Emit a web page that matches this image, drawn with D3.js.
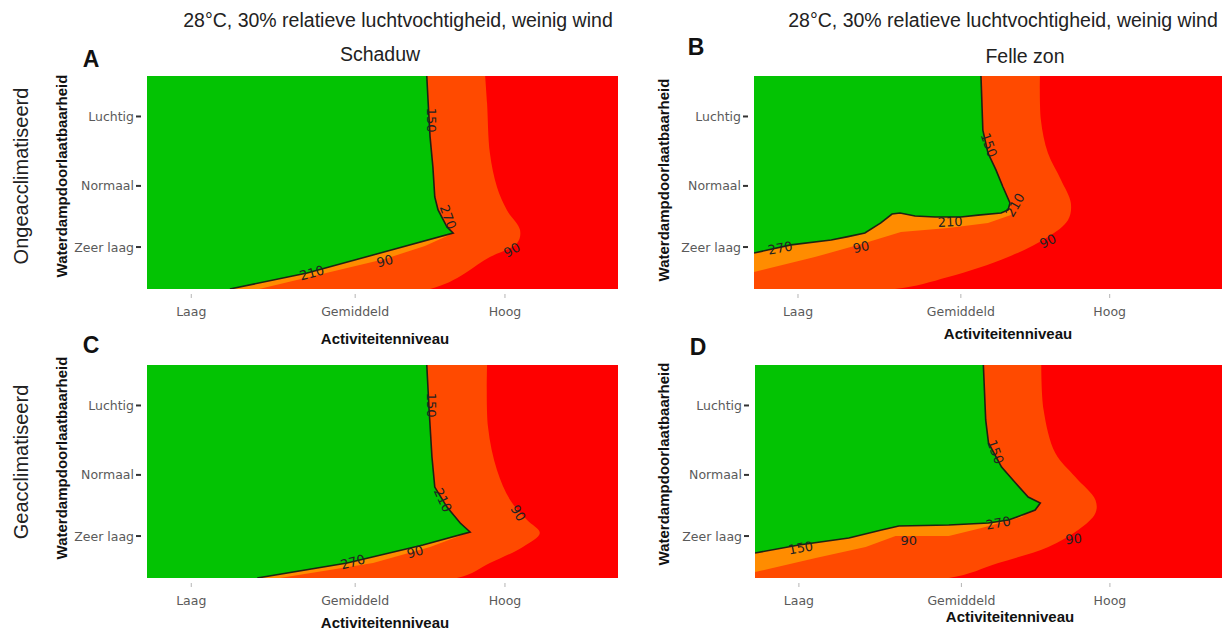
<!DOCTYPE html>
<html lang="nl">
<head>
<meta charset="utf-8">
<title>Hittestress: activiteitenniveau en waterdampdoorlaatbaarheid</title>
<style>
  body { margin: 0; background: #fff; }
  svg { display: block; }
  .tick-label { font-family: "DejaVu Sans", sans-serif; font-size: 12.5px; fill: #5a5a5a; }
  .axis-title { font-family: "Liberation Sans", Arial, sans-serif; font-size: 15px; font-weight: bold; fill: #111; }
  .header { font-family: "Liberation Sans", Arial, sans-serif; font-size: 19.5px; fill: #222; }
  .letter { font-family: "Liberation Sans", Arial, sans-serif; font-size: 23px; font-weight: bold; fill: #111; }
  .contour-label { font-family: "DejaVu Sans", sans-serif; font-size: 13px; fill: #222; }
</style>
<script src="https://cdn.jsdelivr.net/npm/d3@7"></script>
</head>
<body>
<div class="chart"></div>
<script>
// x: activiteitenniveau (0-100), y: waterdampdoorlaatbaarheid (0-100)
const xTickLabels = ["Laag", "Gemiddeld", "Hoog"];
const xTickValues = [9.4, 44.2, 76];
const yTickLabels = ["Luchtig", "Normaal", "Zeer laag"];
const yTickValues = [81, 48.4, 19.7];

const columnHeader = "28°C, 30% relatieve luchtvochtigheid, weinig wind";
const columnTitles = ["Schaduw", "Felle zon"];
const rowTitles = ["Ongeacclimatiseerd", "Geacclimatiseerd"];

// contourgrenzen [x, y]
const greenEdgeA = [[59.4,100],[59.7,87.3],[60.1,71.4],[60.7,57.3],[61.1,43.2],[61.8,37.1],[63.7,29.1],[65.0,26.3],[48.0,16.0],[34.0,7.5],[17.6,0]];
const orangeEdgeA = [[59.4,100],[59.7,87.3],[60.1,71.4],[60.7,57.3],[61.1,43.2],[61.8,37.1],[63.7,29.1],[65.0,26.3],[63.7,24.9],[59.0,20.2],[50.5,14.1],[23.8,0]];
const redEdgeA = [[71.8,100],[72.2,87.3],[72.8,63.8],[74.3,47.9],[76.4,37.1],[79.2,27.7],[78.6,21.6],[72.8,15.0],[60.1,0]];

const greenEdgeB = [[48.5,100],[48.9,74.6],[50.0,63.8],[51.7,55.9],[53.2,47.9],[54.7,40.4],[54.3,37.1],[52.8,35.7],[47.9,34.7],[44.2,33.8],[38.7,33.8],[34.4,34.3],[31.2,35.7],[29.5,35.2],[27.1,31.0],[23.7,26.3],[20.1,24.6],[16.5,23.0],[7.9,20.7],[0,16.9]];
const orangeEdgeB = [[48.5,100],[48.9,74.6],[50.0,63.8],[51.7,55.9],[53.2,47.9],[54.7,40.4],[54.9,34.7],[50.0,31.0],[41.5,28.6],[31.4,26.8],[23.7,21.6],[13.0,15.0],[0,8.0]];
const redEdgeB = [[61.1,100],[61.3,79.3],[62.8,63.8],[65.6,51.2],[67.7,40.4],[67.1,32.4],[62.8,24.4],[54.3,15.0],[41.5,5.6],[30.1,0]];

const greenEdgeC = [[59.4,100],[59.9,78.9],[60.5,56.8],[61.1,42.7],[63.7,33.3],[66.5,25.8],[68.6,21.6],[58.6,15.5],[42.5,7.0],[23.4,0]];
const orangeEdgeC = [[59.4,100],[59.9,78.9],[60.5,56.8],[61.1,42.7],[63.7,33.3],[66.5,25.8],[68.6,21.6],[66.9,20.2],[60.1,14.6],[48.0,7.0],[28.2,0]];
const redEdgeC = [[72.2,100],[72.4,70.9],[74.3,50.7],[77.1,36.6],[80.7,27.2],[83.4,21.1],[79.8,14.6],[72.8,7.0],[65.8,0]];

const greenEdgeD = [[48.9,100],[49.4,74.2],[50.0,63.4],[52.8,52.1],[55.8,44.6],[58.5,38.0],[61.1,35.2],[60.0,31.9],[54.3,27.2],[50.0,25.8],[41.5,24.9],[30.8,24.4],[27.1,22.5],[20.1,18.8],[9.4,15.5],[0,11.7]];
const orangeEdgeD = [[48.9,100],[49.4,74.2],[50.0,63.4],[52.8,52.1],[55.8,44.6],[58.5,38.0],[61.1,35.2],[57.1,28.6],[48.5,23.5],[41.5,19.7],[30.1,19.7],[23.7,14.6],[13.0,9.4],[0,2.8]];
const redEdgeD = [[61.3,100],[61.8,78.9],[64.3,58.7],[68.6,47.4],[72.9,36.6],[72.9,30.5],[69.2,22.5],[62.8,14.6],[52.1,7.0],[41.5,0]];

// contourlabels [waarde, x, y, hoek]
const labelsA = [[150,60.3,79.3,90],[270,63.9,33.8,70],[210,35.0,7.5,-15],[90,50.5,13.1,-15],[90,77.5,18.3,-30]];
const labelsB = [[150,50.2,67.6,70],[210,55.8,39.4,-60],[210,41.9,31.5,-3],[270,5.6,19.2,-10],[90,22.9,19.7,-12],[90,62.8,22.5,-25]];
const labelsC = [[150,60.3,81.2,90],[210,62.8,36.6,65],[270,43.7,7.5,-15],[90,56.9,12.2,-15],[90,78.8,30.5,60]];
const labelsD = [[150,9.8,14.1,-10],[90,32.9,17.4,0],[270,52.1,25.8,-10],[150,51.5,59.2,70],[90,68.2,18.3,-5]];

const zoneColors = { green: "#03c303", orange: "#ff8c00", orangered: "#ff4a00", red: "#fe0000" };

const W = 1227, H = 632;
const svg = d3.select(".chart").append("svg").attr("width", W).attr("height", H);

const panels = [
  { id: "A", left: 147, top: 76, width: 471, height: 213, green: greenEdgeA, orange: orangeEdgeA, red: redEdgeA, labels: labelsA,
    letter: [91, 67], yTitle: [62, 176], xTitle: [385, 344], tickY: 316 },
  { id: "B", left: 754, top: 76, width: 468, height: 213, green: greenEdgeB, orange: orangeEdgeB, red: redEdgeB, labels: labelsB,
    letter: [696, 55], yTitle: [664, 180], xTitle: [1008, 339], tickY: 316 },
  { id: "C", left: 147, top: 365, width: 471, height: 213, green: greenEdgeC, orange: orangeEdgeC, red: redEdgeC, labels: labelsC,
    letter: [91, 353], yTitle: [62, 458], xTitle: [385, 628], tickY: 605 },
  { id: "D", left: 755, top: 365, width: 467, height: 213, green: greenEdgeD, orange: orangeEdgeD, red: redEdgeD, labels: labelsD,
    letter: [698, 355], yTitle: [664, 464], xTitle: [1010, 622], tickY: 605 }
];

// gebied links van een grens sluiten via de linkerrand
const closeLeft = edge => {
  const last = edge[edge.length - 1];
  return edge.concat(last[0] > 0 ? [[0, 0]] : []).concat([[0, 100]]);
};

panels.forEach(p => {
  const x = d3.scaleLinear().domain([0, 100]).range([p.left, p.left + p.width]);
  const y = d3.scaleLinear().domain([0, 100]).range([p.top + p.height, p.top]);
  const line = d3.line().x(d => x(d[0])).y(d => y(d[1]));
  const smooth = d3.line().x(d => x(d[0])).y(d => y(d[1])).curve(d3.curveCatmullRom.alpha(0.5));

  svg.append("clipPath").attr("id", "clip" + p.id)
    .append("rect")
    .attr("x", x(0)).attr("y", y(100))
    .attr("width", x(100) - x(0)).attr("height", y(0) - y(100));

  const g = svg.append("g").attr("clip-path", `url(#clip${p.id})`);

  g.append("rect")
    .attr("x", x(0)).attr("y", y(100))
    .attr("width", x(100) - x(0)).attr("height", y(0) - y(100))
    .attr("fill", zoneColors.red);

  g.append("path").attr("d", smooth(closeLeft(p.red)) + "Z").attr("fill", zoneColors.orangered);
  g.append("path").attr("d", line(closeLeft(p.orange)) + "Z").attr("fill", zoneColors.orange);
  g.append("path").attr("d", line(closeLeft(p.green)) + "Z").attr("fill", zoneColors.green);

  // contourlijn langs de groene zone
  g.append("path").attr("d", line(p.green))
    .attr("fill", "none").attr("stroke", "#151515").attr("stroke-width", 1.6).attr("stroke-opacity", 0.9);

  g.selectAll(".contour-label").data(p.labels).join("text")
    .attr("class", "contour-label")
    .attr("text-anchor", "middle")
    .attr("dominant-baseline", "central")
    .attr("transform", d => `translate(${x(d[1])},${y(d[2])}) rotate(${d[3]})`)
    .text(d => d[0]);

  // y-as
  yTickValues.forEach((v, i) => {
    svg.append("line")
      .attr("x1", x(0) - 11).attr("x2", x(0) - 6)
      .attr("y1", y(v)).attr("y2", y(v))
      .attr("stroke", "#333").attr("stroke-width", 2);
    svg.append("text").attr("class", "tick-label")
      .attr("x", x(0) - 13).attr("y", y(v))
      .attr("text-anchor", "end").attr("dominant-baseline", "central")
      .text(yTickLabels[i]);
  });

  // x-as
  xTickValues.forEach((v, i) => {
    svg.append("line")
      .attr("x1", x(v)).attr("x2", x(v))
      .attr("y1", y(0) + 5).attr("y2", y(0) + 9)
      .attr("stroke", "#b5b5b5").attr("stroke-width", 1);
    svg.append("text").attr("class", "tick-label")
      .attr("x", x(v)).attr("y", p.tickY)
      .attr("text-anchor", "middle")
      .text(xTickLabels[i]);
  });

  svg.append("text").attr("class", "axis-title")
    .attr("x", p.xTitle[0]).attr("y", p.xTitle[1])
    .attr("text-anchor", "middle")
    .text("Activiteitenniveau");

  svg.append("text").attr("class", "axis-title")
    .attr("transform", `translate(${p.yTitle[0] + 5},${p.yTitle[1]}) rotate(-90)`)
    .attr("text-anchor", "middle")
    .text("Waterdampdoorlaatbaarheid");

  svg.append("text").attr("class", "letter")
    .attr("x", p.letter[0]).attr("y", p.letter[1])
    .attr("text-anchor", "middle")
    .text(p.id);
});

// kolomkoppen
[[398, 27], [1003, 27]].forEach((pos, i) => {
  svg.append("text").attr("class", "header")
    .attr("x", pos[0]).attr("y", pos[1]).attr("text-anchor", "middle")
    .text(columnHeader);
});
[[380, 61], [1025, 63]].forEach((pos, i) => {
  svg.append("text").attr("class", "header")
    .attr("x", pos[0]).attr("y", pos[1]).attr("text-anchor", "middle")
    .text(columnTitles[i]);
});

// rijtitels
[[28, 176], [28, 462]].forEach((pos, i) => {
  svg.append("text").attr("class", "header")
    .attr("transform", `translate(${pos[0]},${pos[1]}) rotate(-90)`)
    .attr("text-anchor", "middle")
    .style("font-size", "20px")
    .text(rowTitles[i]);
});
</script>
</body>
</html>
